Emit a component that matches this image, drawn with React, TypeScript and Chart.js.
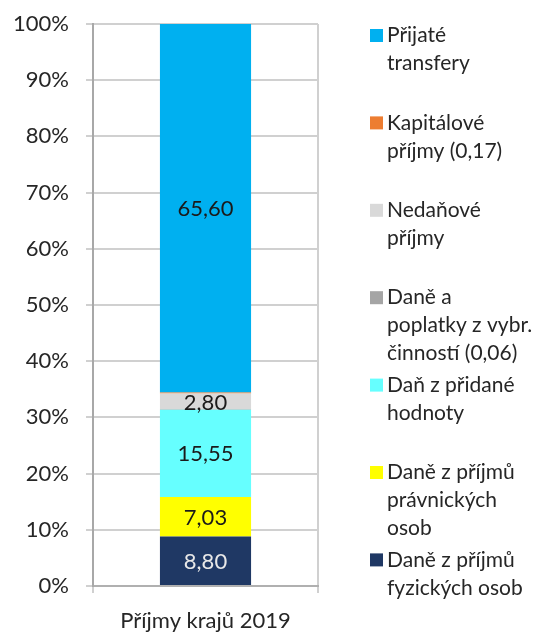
import React, { useEffect, useRef } from "react";
import { Chart, registerables } from "chart.js";

Chart.register(...registerables);

const categories = ["Příjmy krajů 2019"];

const seriesNames = [
  "Daně z příjmů fyzických osob",
  "Daně z příjmů právnických osob",
  "Daň z přidané hodnoty",
  "Daně a poplatky z vybr. činností (0,06)",
  "Nedaňové příjmy",
  "Kapitálové příjmy (0,17)",
  "Přijaté transfery",
];

const legendLines = [
  ["Daně z příjmů", "fyzických osob"],
  ["Daně z příjmů", "právnických", "osob"],
  ["Daň z přidané", "hodnoty"],
  ["Daně a", "poplatky z vybr.", "činností (0,06)"],
  ["Nedaňové", "příjmy"],
  ["Kapitálové", "příjmy (0,17)"],
  ["Přijaté", "transfery"],
];

const seriesValues = [8.8, 7.03, 15.55, 0.06, 2.8, 0.17, 65.6];

const seriesColors = ["#1F3864", "#FFFF00", "#66FFFF", "#A5A5A5", "#D9D9D9", "#ED7D31", "#00B0F0"];

const labelColors = ["#e8e8e8", "#1a1a1a", "#1a1a1a", "#1a1a1a", "#1a1a1a", "#1a1a1a", "#1a1a1a"];

const yTicks = [0, 10, 20, 30, 40, 50, 60, 70, 80, 90, 100];

const FONT = "Lato, 'Open Sans', sans-serif";

const fmt = (v: number) => v.toFixed(2).replace(".", ",");

const dataLabelPlugin = {
  id: "dataLabels",
  afterDatasetsDraw(chart: any) {
    const ctx = chart.ctx;
    ctx.save();
    ctx.font = `22px ${FONT}`;
    ctx.textAlign = "center";
    ctx.textBaseline = "middle";
    chart.data.datasets.forEach((ds: any, i: number) => {
      const meta = chart.getDatasetMeta(i);
      meta.data.forEach((el: any, j: number) => {
        const v = ds.data[j];
        if (v < 1) return;
        ctx.fillStyle = labelColors[i];
        ctx.fillText(fmt(v), el.x, (el.y + el.base) / 2 + 1);
      });
    });
    ctx.restore();
  },
};

const legendPlugin = {
  id: "customLegend",
  afterDraw(chart: any) {
    const ctx = chart.ctx;
    const area = chart.chartArea;
    const n = chart.data.datasets.length;
    const x0 = area.right + 52;
    const first = 35.5;
    const step = 87.4;
    ctx.save();
    ctx.font = `21px ${FONT}`;
    ctx.textAlign = "left";
    ctx.textBaseline = "middle";
    for (let k = 0; k < n; k++) {
      const i = n - 1 - k;
      const yc = first + k * step;
      ctx.fillStyle = seriesColors[i];
      ctx.fillRect(x0, yc - 6.5, 13, 13);
      ctx.fillStyle = "#262626";
      legendLines[i].forEach((line, li) => {
        ctx.fillText(line, x0 + 17, yc + li * 28);
      });
    }
    ctx.restore();
  },
};

export default function App() {
  const ref = useRef<HTMLCanvasElement | null>(null);

  useEffect(() => {
    document.body.style.margin = "0";
    const canvas = ref.current;
    if (!canvas) return;
    const chart = new Chart(canvas, {
      type: "bar",
      data: {
        labels: categories,
        datasets: seriesValues.map((v, i) => ({
          label: seriesNames[i],
          data: [v],
          backgroundColor: seriesColors[i],
          borderWidth: 0,
          categoryPercentage: 1,
          barPercentage: 0.405,
        })),
      },
      options: {
        animation: false,
        responsive: false,
        layout: { padding: { top: 24, right: 221, left: 0, bottom: 0 } },
        plugins: {
          legend: { display: false },
          tooltip: { enabled: false },
        },
        scales: {
          x: {
            stacked: true,
            afterFit: (s: any) => {
              s.height = 46;
            },
            grid: {
              offset: true,
              color: "#d0d0d0",
              lineWidth: 2,
              tickLength: 7,
            },
            border: { color: "#b0b0b0", width: 2 },
            ticks: {
              color: "#262626",
              font: { family: FONT, size: 22 },
              padding: 15,
            },
          },
          y: {
            stacked: true,
            min: 0,
            max: 100,
            afterFit: (s: any) => {
              s.width = 93;
              s.paddingTop = 0;
              s.paddingBottom = 0;
            },
            afterBuildTicks: (s: any) => {
              s.ticks = yTicks.map((v) => ({ value: v }));
            },
            grid: {
              color: "#d0d0d0",
              lineWidth: 2,
              tickLength: 7,
            },
            border: { color: "#a8a8a8", width: 2 },
            ticks: {
              color: "#262626",
              font: { family: FONT, size: 22 },
              padding: 17,
              callback: (v: any) => `${v}%`,
            },
          },
        },
      },
      plugins: [dataLabelPlugin, legendPlugin],
    });
    return () => chart.destroy();
  }, []);

  return (
    <div style={{ width: 539, height: 632, background: "#fff" }}>
      <canvas ref={ref} width={539} height={632} style={{ display: "block" }} />
    </div>
  );
}
